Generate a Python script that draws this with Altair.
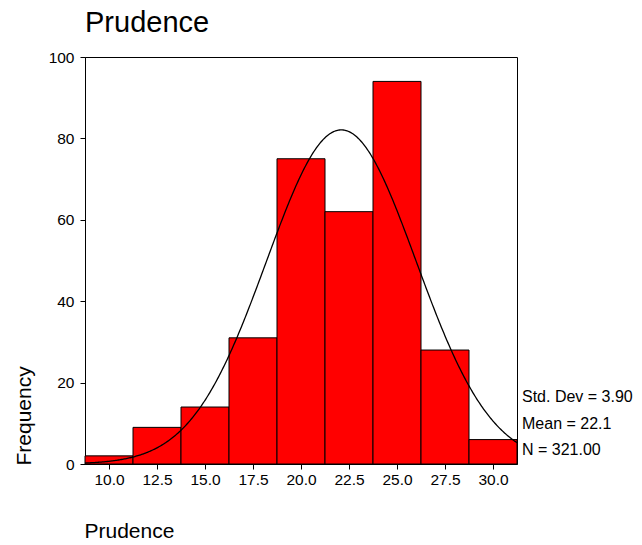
import altair as alt
import pandas as pd

# ---- data ----
bin_centers = [10.0, 12.5, 15.0, 17.5, 20.0, 22.5, 25.0, 27.5, 30.0]
frequencies = [2, 9, 14, 31, 75, 62, 94, 28, 6]
bin_width = 2.5
x_ticks = [10.0, 12.5, 15.0, 17.5, 20.0, 22.5, 25.0, 27.5, 30.0]
y_ticks = [0, 20, 40, 60, 80, 100]
std_dev = 3.90
mean = 22.1
n_total = 321
title_text = "Prudence"
x_title = "Prudence"
y_title = "Frequency"

df = pd.DataFrame({
    "center": bin_centers,
    "count": frequencies,
})
df["start"] = df["center"] - bin_width / 2
df["end"] = df["center"] + bin_width / 2

x_lo = bin_centers[0] - bin_width / 2
x_hi = bin_centers[-1] + bin_width / 2

FONT = "Liberation Sans"

xscale = alt.Scale(domain=[x_lo, x_hi], nice=False, zero=False)
yscale = alt.Scale(domain=[0, 100], nice=False)

xaxis = alt.Axis(
    values=x_ticks, format=".1f", title=x_title, grid=False,
    domainColor="black", tickColor="black", tickSize=5,
    labelFont=FONT, labelFontSize=15.5, labelColor="black", labelPadding=3,
    titleFont=FONT, titleFontSize=21, titleFontWeight="normal", titleColor="black",
    titleX=-1, titleY=73, titleAlign="left", titleBaseline="alphabetic", titleAngle=0,
)
yaxis = alt.Axis(
    values=y_ticks, title=y_title, grid=False,
    domainColor="black", tickColor="black", tickSize=5,
    labelFont=FONT, labelFontSize=15.5, labelColor="black", labelPadding=6,
    titleFont=FONT, titleFontSize=21, titleFontWeight="normal", titleColor="black",
    titleX=-55, titleY=408, titleAlign="left", titleBaseline="alphabetic", titleAngle=-90,
)

bars = alt.Chart(df).mark_rect(fill="#FF0000", stroke="black", strokeWidth=1).encode(
    x=alt.X("start:Q", scale=xscale, axis=xaxis),
    x2="end:Q",
    y=alt.Y("count:Q", scale=yscale, axis=yaxis),
    y2=alt.datum(0),
)

peak = n_total * bin_width
curve = (
    alt.Chart(alt.sequence(x_lo, x_hi + 0.001, 0.05, as_="x"))
    .transform_calculate(
        y=f"{peak}/({std_dev}*sqrt(2*PI))*exp(-0.5*pow((datum.x-{mean})/{std_dev},2))"
    )
    .mark_line(color="black", strokeWidth=1.3)
    .encode(x=alt.X("x:Q", scale=xscale), y=alt.Y("y:Q", scale=yscale))
)

stats_text = f"Std. Dev = {std_dev:.2f}\nMean = {mean:.1f}\nN = {n_total:.2f}"
stats = alt.Chart(pd.DataFrame({"t": [stats_text]})).mark_text(
    align="left", baseline="alphabetic", font=FONT, fontSize=16, color="black",
    lineBreak="\n", lineHeight=26.7,
).encode(x=alt.value(437), y=alt.value(345), text="t:N")

title = alt.Chart(pd.DataFrame({"t": [title_text]})).mark_text(
    align="left", baseline="alphabetic", font=FONT, fontSize=29, color="black",
).encode(x=alt.value(0), y=alt.value(-25), text="t:N")

chart = (
    alt.layer(bars, curve, stats, title)
    .properties(
        width=432, height=407,
        autosize=alt.AutoSizeParams(type="none"),
        padding={"left": 85, "top": 57, "right": 125, "bottom": 81},
        background="white",
    )
    .configure_view(stroke="black", strokeWidth=1)
)

chart.save("out.html", embed_options={"renderer": "svg", "actions": False})
